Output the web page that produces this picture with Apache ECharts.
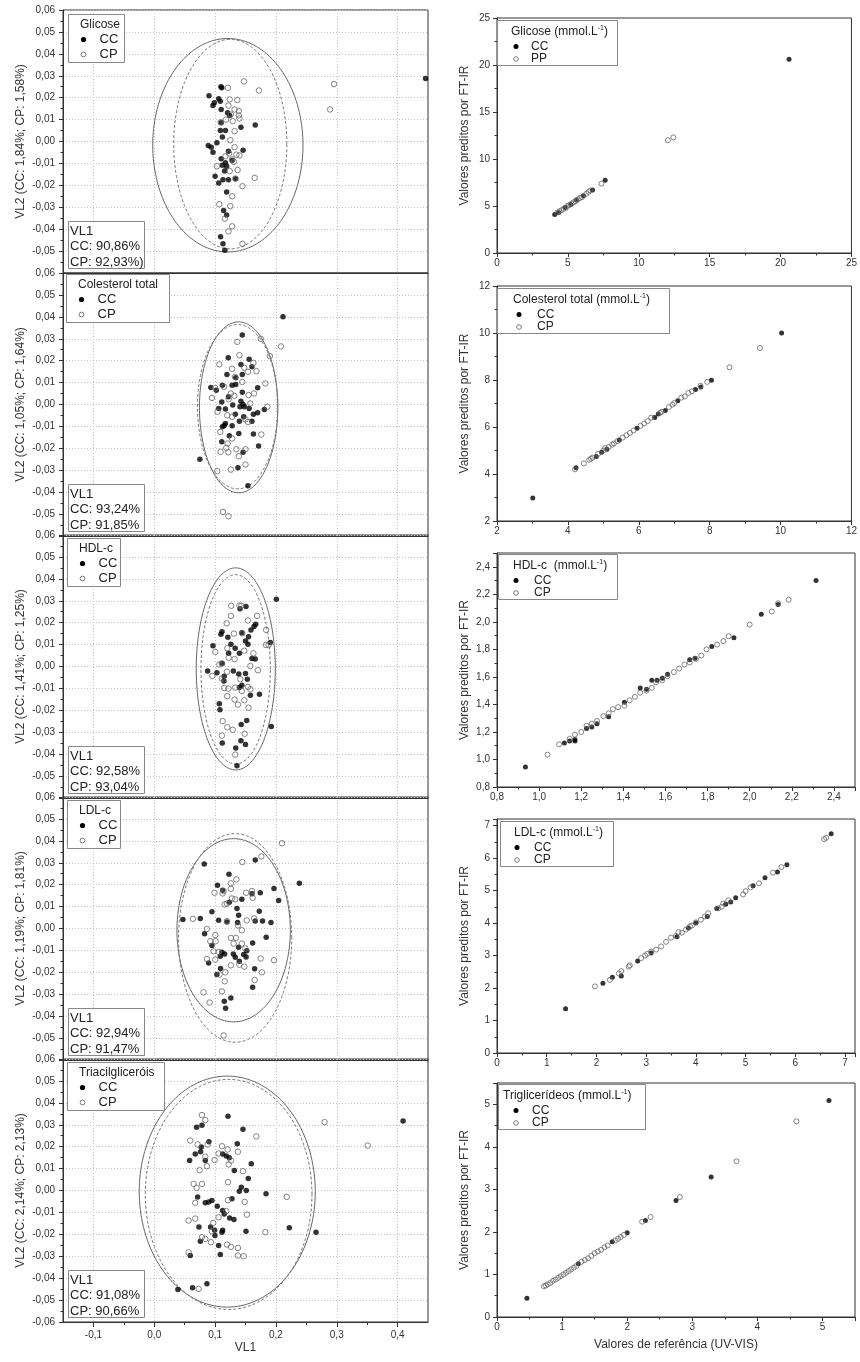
<!DOCTYPE html>
<html><head><meta charset="utf-8">
<script src="https://cdn.jsdelivr.net/npm/echarts@6/dist/echarts.min.js"></script>
<style>html,body{margin:0;padding:0;background:#fff}#c{width:860px;height:1362px}</style>
</head><body><div id="c"></div>
<script>
// ---------------- DATA ----------------
const pcaTitles = ['Glicose', 'Colesterol total', 'HDL-c', 'LDL-c', 'Triacilgliceróis'];
const pcaYNames = ['VL2 (CC: 1,84%; CP: 1,58%)', 'VL2 (CC: 1,05%; CP: 1,64%)', 'VL2 (CC: 1,41%; CP: 1,25%)', 'VL2 (CC: 1,19%; CP: 1,81%)', 'VL2 (CC: 2,14%; CP: 2,13%)'];
const pcaVL1Lines = [
  ['VL1', 'CC: 90,86%', 'CP: 92,93%)'],
  ['VL1', 'CC: 93,24%', 'CP: 91,85%'],
  ['VL1', 'CC: 92,58%', 'CP: 93,04%'],
  ['VL1', 'CC: 92,94%', 'CP: 91,47%'],
  ['VL1', 'CC: 91,08%', 'CP: 90,66%']
];
const pcaGroups = ['CC', 'CP'];
const vl1TickValues = [-0.1, 0, 0.1, 0.2, 0.3, 0.4];
const vl1MinorTickValues = [-0.05, 0.05, 0.15, 0.25, 0.35];

const glicosePcaCC = [[0.446,0.0288],[0.1096,0.025],[0.111,0.0245],[0.090,0.0209],[0.106,0.0195],[0.0987,0.0177],[0.1085,0.0184],[0.0965,0.0164],[0.110,0.0146],[0.1206,0.0131],[0.124,0.0119],[0.110,0.0085],[0.1425,0.0065],[0.166,0.0075],[0.1086,0.005],[0.117,0.005],[0.112,0.0021],[0.0888,-0.0018],[0.0937,-0.0026],[0.103,-0.0006],[0.0965,-0.0049],[0.122,-0.0044],[0.146,-0.004],[0.110,-0.0079],[0.117,-0.0097],[0.112,-0.0108],[0.119,-0.0113],[0.1157,-0.0135],[0.100,-0.0158],[0.113,-0.0174],[0.122,-0.0174],[0.106,-0.0189],[0.134,-0.017],[0.119,-0.023],[0.114,-0.0315],[0.119,-0.0335],[0.109,-0.0435],[0.113,-0.0466],[0.116,-0.0496],[0.128,-0.0087]];
const glicosePcaCP = [[0.2955,0.0262],[0.289,0.0146],[0.1475,0.0274],[0.172,0.0233],[0.121,0.0245],[0.124,0.0192],[0.1365,0.0189],[0.122,0.0164],[0.132,0.0146],[0.139,0.0139],[0.126,0.0123],[0.139,0.0119],[0.118,0.01],[0.129,0.0093],[0.140,0.0105],[0.109,0.0088],[0.132,0.0047],[0.125,0.0006],[0.132,-0.0026],[0.123,-0.0055],[0.135,-0.006],[0.140,-0.0064],[0.128,-0.0082],[0.131,-0.0093],[0.137,-0.013],[0.124,-0.0135],[0.133,-0.0169],[0.165,-0.0166],[0.145,-0.0204],[0.128,-0.025],[0.107,-0.0286],[0.125,-0.0295],[0.116,-0.0352],[0.128,-0.0387],[0.122,-0.041],[0.145,-0.0467],[0.103,-0.0113],[0.117,-0.0067]];

const colPcaCC = [[0.2116,0.040],[0.1447,0.0317],[0.1217,0.0213],[0.156,0.0207],[0.1425,0.0183],[0.1606,0.0172],[0.1195,0.0137],[0.1447,0.0137],[0.134,0.0122],[0.112,0.0088],[0.128,0.0088],[0.134,0.0091],[0.093,0.0078],[0.102,0.0065],[0.170,0.0076],[0.1447,0.0056],[0.122,0.0035],[0.111,0.0011],[0.1425,0.0015],[0.146,0.0],[0.129,-0.0002],[0.106,-0.0018],[0.117,-0.002],[0.141,-0.001],[0.148,-0.001],[0.156,-0.0018],[0.181,-0.0023],[0.170,-0.0038],[0.163,-0.0044],[0.1333,-0.0044],[0.147,-0.0056],[0.140,-0.0076],[0.1606,-0.0076],[0.117,-0.0087],[0.115,-0.0096],[0.112,-0.0102],[0.128,-0.0097],[0.139,-0.0132],[0.163,-0.0135],[0.1234,-0.0143],[0.111,-0.017],[0.1715,-0.0189],[0.146,-0.0218],[0.075,-0.025],[0.1376,-0.0289],[0.154,-0.0371]];
const colPcaCP = [[0.2083,0.0265],[0.175,0.030],[0.1365,0.0286],[0.140,0.0225],[0.190,0.0221],[0.107,0.0183],[0.128,0.0163],[0.163,0.019],[0.148,0.0167],[0.168,0.0152],[0.154,0.0149],[0.1327,0.0126],[0.1447,0.0103],[0.1826,0.0096],[0.1146,0.0081],[0.1003,0.0075],[0.126,0.005],[0.1316,0.004],[0.164,0.005],[0.155,0.0043],[0.0948,0.003],[0.1223,0.0024],[0.158,0.0005],[0.186,-0.001],[0.104,-0.0033],[0.120,-0.0049],[0.128,-0.0056],[0.150,-0.0068],[0.154,-0.008],[0.1086,-0.0125],[0.176,-0.0137],[0.128,-0.0155],[0.1206,-0.0178],[0.1184,-0.0198],[0.150,-0.0204],[0.109,-0.0216],[0.1217,-0.0218],[0.135,-0.0204],[0.139,-0.0236],[0.126,-0.0297],[0.150,-0.0274],[0.1036,-0.0304],[0.113,-0.049],[0.122,-0.051]];

const hdlPcaCC = [[0.2007,0.0307],[0.1508,0.0274],[0.141,0.0263],[0.1667,0.0193],[0.164,0.0182],[0.159,0.0167],[0.1113,0.0159],[0.1096,0.0147],[0.144,0.0154],[0.121,0.0133],[0.155,0.0136],[0.150,0.0116],[0.154,0.0101],[0.126,0.0101],[0.0965,0.0095],[0.1908,0.0109],[0.133,0.0083],[0.1223,0.006],[0.140,0.006],[0.1606,0.0037],[0.166,0.0034],[0.1118,0.0014],[0.0877,-0.002],[0.103,-0.0028],[0.130,-0.0021],[0.139,-0.0034],[0.150,-0.0032],[0.115,-0.0044],[0.153,-0.0058],[0.1146,-0.0066],[0.144,-0.0086],[0.140,-0.0096],[0.173,-0.0127],[0.158,-0.0131],[0.107,-0.017],[0.108,-0.0197],[0.152,-0.0246],[0.143,-0.0265],[0.1924,-0.0274],[0.1118,-0.0349],[0.1425,-0.0339],[0.150,-0.0356],[0.134,-0.0372],[0.136,-0.0453]];
const hdlPcaCP = [[0.1266,0.0277],[0.140,0.0278],[0.143,0.0277],[0.126,0.0231],[0.169,0.0231],[0.154,0.021],[0.119,0.0197],[0.184,0.0167],[0.131,0.015],[0.1447,0.0151],[0.1837,0.0098],[0.188,0.0098],[0.120,0.0083],[0.1003,0.0067],[0.148,0.0072],[0.163,0.006],[0.1223,0.004],[0.132,0.0034],[0.111,0.0014],[0.107,0.0009],[0.158,0.0002],[0.1705,-0.0017],[0.0954,-0.0043],[0.111,-0.0055],[0.1195,-0.0024],[0.1414,-0.0058],[0.115,-0.0098],[0.122,-0.0101],[0.133,-0.0096],[0.154,-0.0093],[0.158,-0.0104],[0.144,-0.0112],[0.120,-0.0135],[0.132,-0.0151],[0.148,-0.0154],[0.1376,-0.0174],[0.155,-0.0188],[0.1124,-0.0249],[0.120,-0.0277],[0.129,-0.0289],[0.1113,-0.0315],[0.1486,-0.0307],[0.1332,-0.0402]];

const ldlPcaCC = [[0.2385,0.0207],[0.0822,0.0294],[0.166,0.0313],[0.1228,0.0247],[0.104,0.0197],[0.1124,0.0175],[0.1968,0.0183],[0.1743,0.0163],[0.1606,0.0159],[0.2045,0.0128],[0.144,0.0133],[0.1234,0.012],[0.136,0.0091],[0.0948,0.0076],[0.1727,0.0079],[0.1387,0.0061],[0.0471,0.0041],[0.0757,0.0046],[0.1058,0.0038],[0.1195,0.003],[0.137,0.0027],[0.166,0.0034],[0.178,0.0034],[0.1919,0.0027],[0.0828,-0.0024],[0.184,-0.004],[0.1617,-0.0066],[0.0948,-0.0078],[0.1113,-0.0108],[0.1157,-0.0116],[0.130,-0.0116],[0.1387,-0.0085],[0.152,-0.0101],[0.147,-0.0119],[0.151,-0.013],[0.1086,-0.0127],[0.1332,-0.0131],[0.0894,-0.0157],[0.109,-0.0183],[0.1398,-0.0149],[0.165,-0.0184],[0.103,-0.021],[0.1617,-0.0268],[0.126,-0.0317],[0.1151,-0.0332],[0.1173,-0.0364]];
const ldlPcaCP = [[0.21,0.0389],[0.176,0.0329],[0.1447,0.0303],[0.135,0.0224],[0.126,0.0206],[0.114,0.0171],[0.099,0.0163],[0.126,0.0181],[0.151,0.0163],[0.1606,0.0171],[0.1617,0.014],[0.1124,0.016],[0.133,0.0133],[0.1157,0.011],[0.1195,0.0113],[0.1277,0.0137],[0.0636,0.0044],[0.0866,-0.0002],[0.1195,0.0034],[0.1376,0.0014],[0.144,-0.0008],[0.152,0.0037],[0.164,0.0046],[0.1003,-0.003],[0.0921,-0.0058],[0.1009,-0.0058],[0.126,-0.0043],[0.1343,-0.0043],[0.1305,-0.0069],[0.144,-0.0069],[0.1497,-0.0091],[0.0976,-0.0104],[0.1058,-0.0107],[0.0866,-0.0139],[0.1003,-0.0142],[0.126,-0.0168],[0.1398,-0.0165],[0.148,-0.0174],[0.175,-0.0137],[0.177,-0.02],[0.1968,-0.0145],[0.1075,-0.021],[0.1168,-0.02],[0.1157,-0.0241],[0.165,-0.0235],[0.1113,-0.0287],[0.081,-0.0291],[0.091,-0.0338],[0.114,-0.0488]];

const tagPcaCC = [[0.409,0.0317],[0.1212,0.0339],[0.1458,0.0279],[0.0784,0.0298],[0.0696,0.0289],[0.0899,0.0222],[0.1365,0.0213],[0.0773,0.0198],[0.0762,0.0177],[0.0674,0.0167],[0.1124,0.0167],[0.1184,0.0157],[0.1234,0.0149],[0.0581,0.0137],[0.0839,0.0137],[0.1595,0.0122],[0.1316,0.0091],[0.1546,0.0055],[0.1431,0.0015],[0.1398,-0.0003],[0.1513,0.0],[0.1837,-0.0015],[0.0713,-0.003],[0.0839,-0.0056],[0.0894,-0.0052],[0.0948,-0.0046],[0.1277,-0.0038],[0.1036,-0.0072],[0.1124,-0.0091],[0.1151,-0.0107],[0.1239,-0.0125],[0.1310,-0.0132],[0.0927,-0.0166],[0.0735,-0.0166],[0.0992,-0.0181],[0.1124,-0.0181],[0.1113,-0.019],[0.1508,-0.0186],[0.222,-0.017],[0.2659,-0.019],[0.0998,-0.0205],[0.0757,-0.0231],[0.1058,-0.0251],[0.1086,-0.0292],[0.0592,-0.0297],[0.0630,-0.0444],[0.0866,-0.0426],[0.0389,-0.0452]];
const tagPcaCP = [[0.280,0.0312],[0.3509,0.0205],[0.0784,0.0344],[0.0839,0.0321],[0.1678,0.0247],[0.0592,0.0228],[0.0713,0.021],[0.0877,0.021],[0.1113,0.0202],[0.1206,0.0187],[0.1376,0.0177],[0.1058,0.0169],[0.0992,0.0139],[0.0839,0.0154],[0.0866,0.0111],[0.1223,0.0119],[0.1261,0.0137],[0.0746,0.0093],[0.1458,0.0088],[0.1212,0.0038],[0.0647,0.003],[0.0784,0.003],[0.0696,0.0012],[0.2177,-0.0029],[0.1212,-0.0044],[0.1486,-0.0052],[0.0674,-0.0056],[0.1184,-0.0094],[0.1524,-0.011],[0.1058,-0.0122],[0.0565,-0.0137],[0.0674,-0.0128],[0.097,-0.0148],[0.1826,-0.019],[0.0948,-0.0186],[0.0784,-0.0213],[0.0839,-0.0221],[0.0932,-0.0236],[0.1195,-0.0247],[0.1261,-0.0257],[0.1376,-0.0262],[0.0565,-0.0282],[0.1376,-0.0297],[0.1469,-0.03],[0.0729,-0.0449]];

// confidence ellipses: [centerX, centerY, radiusX, radiusY]
const ellipseCC = [[0.121,-0.0017,0.1235,0.0487],[0.1387,-0.0013,0.0644,0.039],[0.134,-0.0011,0.065,0.0461],[0.1305,-0.0008,0.0932,0.0418],[0.12,-0.0005,0.1447,0.0527]];
const ellipseCP = [[0.125,-0.0012,0.093,0.0478],[0.137,-0.001,0.066,0.0375],[0.1338,-0.0013,0.057,0.0432],[0.133,-0.0043,0.093,0.0476],[0.1223,-0.0018,0.137,0.0525]];

const regTitles = ['Glicose', 'Colesterol total', 'HDL-c ', 'LDL-c', 'Triglicerídeos'];
const regGroups = [['CC', 'PP'], ['CC', 'CP'], ['CC', 'CP'], ['CC', 'CP'], ['CC', 'CP']];
const regAxisMin = [0, 2, 0.8, 0, 0];
const regAxisMax = [25, 12, 2.5, 7.2, 5.5];
const regAxisStep = [5, 2, 0.2, 1, 1];
const regAxisDecimals = [0, 0, 1, 0, 0];

const glicoseRegCC = [[4.07,4.1],[4.35,4.3],[4.8,4.85],[5.2,5.15],[5.6,5.65],[6.1,6.1],[6.74,6.7],[7.63,7.75],[20.6,20.6]];
const glicoseRegPP = [[4.25,4.3],[4.4,4.45],[4.55,4.55],[4.7,4.7],[4.85,4.8],[4.95,5.0],[5.1,5.1],[5.25,5.25],[5.4,5.4],[5.55,5.5],[5.7,5.7],[5.85,5.85],[6.0,5.95],[6.3,6.3],[6.45,6.5],[6.6,6.65],[7.37,7.38],[12.05,12.0],[12.44,12.3]];
const colRegCC = [[3.01,2.98],[4.23,4.27],[4.8,4.75],[4.95,4.93],[5.1,5.05],[5.45,5.45],[5.95,5.95],[6.45,6.4],[6.55,6.55],[6.75,6.7],[7.1,7.12],[7.6,7.6],[7.75,7.7],[8.05,7.99],[10.03,10.0]];
const colRegCP = [[4.2,4.2],[4.45,4.45],[4.6,4.6],[4.65,4.65],[4.7,4.7],[4.85,4.85],[5.0,5.0],[5.05,5.1],[5.15,5.15],[5.25,5.25],[5.3,5.3],[5.4,5.4],[5.55,5.55],[5.65,5.65],[5.75,5.75],[5.85,5.85],[6.05,6.05],[6.15,6.15],[6.25,6.25],[6.35,6.4],[6.6,6.6],[6.65,6.65],[6.85,6.85],[6.95,6.95],[7.0,7.02],[7.2,7.25],[7.3,7.3],[7.4,7.45],[7.5,7.52],[7.74,7.76],[7.93,7.92],[8.56,8.54],[9.42,9.36]];
const hdlRegCC = [[0.935,0.945],[1.12,1.12],[1.145,1.135],[1.17,1.145],[1.17,1.135],[1.225,1.225],[1.25,1.235],[1.275,1.26],[1.33,1.31],[1.405,1.415],[1.48,1.52],[1.51,1.51],[1.535,1.575],[1.56,1.575],[1.585,1.59],[1.61,1.62],[1.715,1.725],[1.74,1.735],[1.82,1.82],[1.925,1.885],[2.055,2.055],[2.135,2.125],[2.315,2.3]];
const hdlRegCP = [[1.04,1.035],[1.095,1.11],[1.145,1.15],[1.17,1.18],[1.2,1.2],[1.225,1.245],[1.25,1.26],[1.275,1.28],[1.305,1.315],[1.33,1.335],[1.35,1.365],[1.375,1.38],[1.405,1.39],[1.43,1.43],[1.455,1.455],[1.48,1.485],[1.51,1.5],[1.535,1.52],[1.555,1.56],[1.585,1.575],[1.61,1.605],[1.64,1.635],[1.665,1.66],[1.69,1.69],[1.715,1.705],[1.745,1.73],[1.77,1.755],[1.795,1.8],[1.845,1.835],[1.875,1.86],[1.9,1.895],[2.0,1.98],[2.105,2.075],[2.135,2.135],[2.185,2.16]];
const ldlRegCC = [[1.38,1.36],[2.13,2.15],[2.32,2.33],[2.5,2.37],[2.83,2.83],[3.1,3.08],[3.62,3.58],[3.85,3.85],[4.0,4.0],[4.23,4.2],[4.42,4.45],[4.6,4.58],[4.7,4.65],[4.8,4.78],[5.15,5.15],[5.39,5.39],[5.64,5.57],[5.83,5.79],[6.72,6.75]];
const ldlRegCP = [[1.97,2.05],[2.27,2.25],[2.45,2.45],[2.5,2.52],[2.65,2.66],[2.67,2.7],[2.9,2.92],[2.98,3.0],[3.02,3.05],[3.1,3.12],[3.2,3.18],[3.3,3.28],[3.4,3.42],[3.5,3.55],[3.6,3.6],[3.65,3.72],[3.72,3.7],[3.8,3.8],[3.88,3.9],[3.92,3.92],[4.0,4.02],[4.1,4.1],[4.18,4.2],[4.25,4.3],[4.45,4.45],[4.52,4.5],[4.55,4.6],[4.65,4.7],[4.95,4.88],[5.0,4.98],[5.1,5.1],[5.27,5.22],[5.55,5.55],[5.72,5.72],[6.58,6.58],[6.62,6.62]];
const tagRegCC = [[0.46,0.44],[1.25,1.25],[1.77,1.77],[2.0,1.98],[2.28,2.27],[2.75,2.74],[3.29,3.29],[5.1,5.09]];
const tagRegCP = [[0.72,0.72],[0.75,0.74],[0.78,0.77],[0.82,0.8],[0.86,0.85],[0.9,0.88],[0.94,0.92],[0.98,0.96],[1.02,1.0],[1.06,1.04],[1.1,1.08],[1.14,1.12],[1.18,1.16],[1.22,1.2],[1.3,1.3],[1.35,1.34],[1.4,1.38],[1.45,1.44],[1.5,1.5],[1.55,1.54],[1.6,1.58],[1.65,1.64],[1.7,1.68],[1.82,1.8],[1.86,1.84],[1.9,1.88],[1.95,1.93],[2.23,2.24],[2.36,2.35],[2.81,2.82],[3.68,3.66],[4.6,4.6]];

const pcaCC = [glicosePcaCC, colPcaCC, hdlPcaCC, ldlPcaCC, tagPcaCC];
const pcaCP = [glicosePcaCP, colPcaCP, hdlPcaCP, ldlPcaCP, tagPcaCP];
const regCC = [glicoseRegCC, colRegCC, hdlRegCC, ldlRegCC, tagRegCC];
const regCP = [glicoseRegPP, colRegCP, hdlRegCP, ldlRegCP, tagRegCP];

// ---------------- LAYOUT ----------------
const FF = '"Liberation Sans", Arial, sans-serif';
const LEFT = 63, LW = 365, PTOP = [10, 273, 535, 797, 1059], PH = 263;
const RLEFT = 497, RW = 358, RTOP = [18, 286, 553, 819, 1083], RH = [235, 235, 234, 234, 234];
const pcaLegBox = [[68,14,56],[66,274,103],[67,538,53],[67,800,53],[67,1062,97]];
const regLegBox = [[497,20,120,14,19,34],[497,288,172,16,22,40],[498,554,119,15,18,36],[500,821,113,14,17,34],[498,1084,147,5,18,34]];
const AX = '#333';

const fmtDec = d => v => (v < -1e-9 ? '-' : '') + Math.abs(v).toFixed(d).replace('.', ',');

const grids = [], xAxes = [], yAxes = [], series = [], graphics = [];

function ellipseRenderer(dashed) {
  return function (params, api) {
    const cx = api.value(0), cy = api.value(1), rx = api.value(2), ry = api.value(3);
    const pts = [];
    for (let k = 0; k <= 160; k++) {
      const t = k / 160 * Math.PI * 2;
      pts.push(api.coord([cx + rx * Math.cos(t), cy + ry * Math.sin(t)]));
    }
    return { type: 'polyline', shape: { points: pts }, silent: true,
      style: { stroke: dashed ? '#777' : '#666', lineWidth: 1, fill: null, lineDash: dashed ? [3, 2] : null } };
  };
}

const splitStyle = { color: '#c4c4c4', width: 1, type: [1, 2] };

for (let i = 0; i < 5; i++) {
  grids.push({ left: LEFT, top: PTOP[i], width: LW, height: PH, show: true, borderColor: AX, borderWidth: 1, containLabel: false });
  xAxes.push({
    gridIndex: i, type: 'value', min: -0.15, max: 0.45, position: 'bottom',
    axisLine: { show: true, onZero: false, lineStyle: { color: AX } },
    axisTick: { show: i === 4, customValues: vl1TickValues, length: 5, lineStyle: { color: AX } },
    axisLabel: { show: i === 4, customValues: vl1TickValues, formatter: fmtDec(1), fontSize: 10, color: '#333', fontFamily: FF, margin: 8 },
    splitLine: { show: true, lineStyle: splitStyle },
    name: i === 4 ? 'VL1' : '', nameLocation: 'middle', nameGap: 20,
    nameTextStyle: { fontSize: 12, color: '#333', fontFamily: FF }
  });
  yAxes.push({
    gridIndex: i, type: 'value', min: -0.06, max: 0.06, interval: 0.01,
    axisLine: { show: true, onZero: false, lineStyle: { color: AX } },
    axisTick: { length: 4, lineStyle: { color: AX } },
    minorTick: { show: true, splitNumber: 2, length: 2.5, lineStyle: { color: AX } },
    axisLabel: { formatter: fmtDec(2), fontSize: 10, color: '#333', fontFamily: FF, margin: 8, showMinLabel: i === 4, showMaxLabel: true },
    splitLine: { show: true, lineStyle: splitStyle },
    name: pcaYNames[i], nameLocation: 'middle', nameGap: 36,
    nameTextStyle: { fontSize: 12, color: '#333', fontFamily: FF }
  });
  series.push({ type: 'custom', xAxisIndex: i, yAxisIndex: i, data: [ellipseCC[i]], renderItem: ellipseRenderer(false), silent: true, z: 2 });
  series.push({ type: 'custom', xAxisIndex: i, yAxisIndex: i, data: [ellipseCP[i]], renderItem: ellipseRenderer(true), silent: true, z: 2 });
  series.push({ type: 'scatter', name: pcaGroups[0], xAxisIndex: i, yAxisIndex: i, data: pcaCC[i], symbol: 'circle', symbolSize: 5.5,
    itemStyle: { color: '#000' }, z: 3, emphasis: { disabled: true } });
  series.push({ type: 'scatter', name: pcaGroups[1], xAxisIndex: i, yAxisIndex: i, data: pcaCP[i], symbol: 'circle', symbolSize: 5.5,
    itemStyle: { color: 'rgba(255,255,255,0)', borderColor: '#666', borderWidth: 1 }, z: 4, emphasis: { disabled: true } });

  // legend box (top-left)
  const [lx, ly, lw] = pcaLegBox[i];
  graphics.push({ type: 'rect', shape: { x: lx + 0.5, y: ly + 0.5, width: lw, height: 48 }, style: { fill: '#fff', stroke: '#888', lineWidth: 1 }, z: 100 });
  graphics.push({ type: 'text', style: { x: lx + 12, y: ly + 10.5, text: pcaTitles[i], fontSize: 12, fontFamily: FF, fill: '#222', verticalAlign: 'middle', align: 'left' }, z: 101 });
  graphics.push({ type: 'circle', shape: { cx: lx + 15.5, cy: ly + 25.5, r: 2.6 }, style: { fill: '#000' }, z: 101 });
  graphics.push({ type: 'text', style: { x: lx + 31.5, y: ly + 25.5, text: pcaGroups[0], fontSize: 13, fontFamily: FF, fill: '#222', verticalAlign: 'middle', align: 'left' }, z: 101 });
  graphics.push({ type: 'circle', shape: { cx: lx + 15.5, cy: ly + 40.5, r: 2.4 }, style: { fill: '#fff', stroke: '#777', lineWidth: 1 }, z: 101 });
  graphics.push({ type: 'text', style: { x: lx + 31.5, y: ly + 40.5, text: pcaGroups[1], fontSize: 13, fontFamily: FF, fill: '#222', verticalAlign: 'middle', align: 'left' }, z: 101 });

  // VL1 box (bottom-left)
  const by = PTOP[i] + PH - 52;
  graphics.push({ type: 'rect', shape: { x: 68.5, y: by + 0.5, width: 76, height: 47 }, style: { fill: '#fff', stroke: '#888', lineWidth: 1 }, z: 100 });
  pcaVL1Lines[i].forEach((t, k) => {
    graphics.push({ type: 'text', style: { x: 70, y: by + 10 + k * 15.5, text: t, fontSize: 13, fontFamily: FF, fill: '#222', verticalAlign: 'middle', align: 'left' }, z: 101 });
  });
}

for (let i = 0; i < 5; i++) {
  const g = 5 + i;
  const step = regAxisStep[i];
  const maxOnTick = Math.abs(regAxisMax[i] / step - Math.round(regAxisMax[i] / step)) < 1e-6;
  grids.push({ left: RLEFT, top: RTOP[i], width: RW, height: RH[i], show: true, borderColor: AX, borderWidth: 1 });
  const common = {
    gridIndex: g, type: 'value', min: regAxisMin[i], max: regAxisMax[i], interval: step,
    axisLine: { show: true, onZero: false, lineStyle: { color: AX } },
    axisTick: { length: 4, lineStyle: { color: AX } },
    minorTick: { show: true, splitNumber: 2, length: 2.5, lineStyle: { color: AX } },
    splitLine: { show: false },
    nameLocation: 'middle',
    nameTextStyle: { fontSize: 12, color: '#333', fontFamily: FF }
  };
  xAxes.push(Object.assign({}, common, {
    position: 'bottom',
    axisLabel: { formatter: fmtDec(regAxisDecimals[i]), fontSize: 10, color: '#333', fontFamily: FF, margin: 5, showMaxLabel: maxOnTick },
    name: i === 4 ? 'Valores de referência (UV-VIS)' : '', nameGap: 22
  }));
  yAxes.push(Object.assign({}, common, {
    axisLabel: { formatter: fmtDec(regAxisDecimals[i]), fontSize: 10, color: '#333', fontFamily: FF, margin: 7, showMaxLabel: maxOnTick },
    name: 'Valores preditos por FT-IR', nameGap: 26
  }));
  series.push({ type: 'scatter', name: regGroups[i][0], xAxisIndex: g, yAxisIndex: g, data: regCC[i], symbol: 'circle', symbolSize: 5,
    itemStyle: { color: '#000' }, z: 3, emphasis: { disabled: true } });
  series.push({ type: 'scatter', name: regGroups[i][1], xAxisIndex: g, yAxisIndex: g, data: regCP[i], symbol: 'circle', symbolSize: 5,
    itemStyle: { color: 'rgba(255,255,255,0)', borderColor: '#666', borderWidth: 1 }, z: 4, emphasis: { disabled: true } });

  const [bx, byy, bw, tdx, sdx, ndx] = regLegBox[i];
  graphics.push({ type: 'rect', shape: { x: bx + 0.5, y: byy + 0.5, width: bw, height: 45 }, style: { fill: '#fff', stroke: '#888', lineWidth: 1 }, z: 100 });
  graphics.push({ type: 'text', style: {
    x: bx + tdx, y: byy + 12, text: '{t|' + regTitles[i] + ' (mmol.L}{s|-1}{t|)}', verticalAlign: 'middle', align: 'left',
    rich: { t: { fontSize: 12, fontFamily: FF, fill: '#222', lineHeight: 14 }, s: { fontSize: 7, fontFamily: FF, fill: '#222', lineHeight: 8, verticalAlign: 'top' } }
  }, z: 101 });
  graphics.push({ type: 'circle', shape: { cx: bx + sdx, cy: byy + 26.5, r: 2.5 }, style: { fill: '#000' }, z: 101 });
  graphics.push({ type: 'text', style: { x: bx + ndx, y: byy + 26.5, text: regGroups[i][0], fontSize: 12, fontFamily: FF, fill: '#222', verticalAlign: 'middle', align: 'left' }, z: 101 });
  graphics.push({ type: 'circle', shape: { cx: bx + sdx, cy: byy + 39, r: 2.3 }, style: { fill: '#fff', stroke: '#777', lineWidth: 1 }, z: 101 });
  graphics.push({ type: 'text', style: { x: bx + ndx, y: byy + 39, text: regGroups[i][1], fontSize: 12, fontFamily: FF, fill: '#222', verticalAlign: 'middle', align: 'left' }, z: 101 });
}

// helper axis: minor ticks of the VL1 axis (bottom panel)
xAxes.push({
  gridIndex: 4, type: 'value', min: -0.15, max: 0.45, position: 'bottom',
  axisLine: { show: false, onZero: false }, axisLabel: { show: false }, splitLine: { show: false },
  axisTick: { show: true, customValues: vl1MinorTickValues, length: 3, lineStyle: { color: AX } }
});

const chart = echarts.init(document.getElementById('c'), null, { renderer: 'canvas' });
chart.setOption({
  animation: false,
  backgroundColor: '#fff',
  textStyle: { fontFamily: FF },
  grid: grids, xAxis: xAxes, yAxis: yAxes, series: series,
  graphic: { elements: graphics }
});
</script></body></html>
